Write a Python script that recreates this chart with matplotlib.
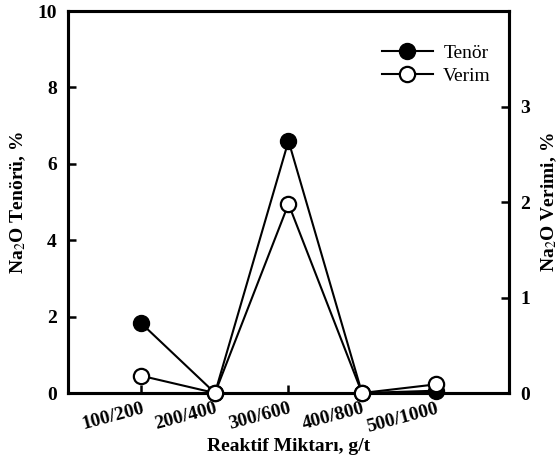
import numpy as np
import matplotlib
matplotlib.use("Agg")
import matplotlib.pyplot as plt
from matplotlib.lines import Line2D

# reagent dosage categories and read-off values
dosages = ["100/200", "200/400", "300/600", "400/800", "500/1000"]
tenor = [1.82, 0.0, 6.6, 0.0, 0.06]     # Na2O grade, % (left axis)
verim = [0.18, 0.0, 1.98, 0.0, 0.09]    # Na2O recovery, % (right axis)

plt.rcParams['font.family'] = ['Liberation Serif', 'DejaVu Serif']
plt.rcParams['mathtext.fontset'] = 'stix'

fig = plt.figure(figsize=(5.59, 4.65), dpi=100)
ax = fig.add_axes([0.1216, 0.1548, 0.7890, 0.8215])
ax2 = ax.twinx()

x = np.arange(1, len(dosages) + 1)

ax.plot(x, tenor, color='black', lw=1.5, marker='o', ms=11.5,
        mfc='black', mec='black', clip_on=False, zorder=3)
ax2.plot(x, verim, color='black', lw=1.5, marker='o', ms=11,
         mfc='white', mec='black', mew=1.6, clip_on=False, zorder=3)

ax.set_xlim(0, 6)
ax.set_ylim(0, 10)
ax2.set_ylim(0, 4)
ax.set_yticks([0, 2, 4, 6, 8, 10])
ax2.set_yticks([0, 1, 2, 3])
ax.set_xticks(x)
ax.set_xticklabels(dosages, rotation=15, ha='right', rotation_mode='anchor',
                   fontweight='bold', fontsize=14)

for a in (ax, ax2):
    for s in a.spines.values():
        s.set_linewidth(2.2)
    a.tick_params(direction='in', length=6, width=1.8, labelsize=14)
for lab in ax.get_yticklabels() + ax2.get_yticklabels():
    lab.set_fontweight('bold')
ax.tick_params(axis='x', pad=5)
ax.tick_params(axis='y', pad=8)
ax2.tick_params(axis='y', pad=8)

ax.set_xlabel('Reaktif Miktarı, g/t', fontweight='bold', fontsize=14)
ax.xaxis.set_label_coords(0.5, -0.118)
fig.text(18 / 559, 1 - 202 / 465, r'Na$_2$O Tenörü, %', rotation=90,
         ha='center', va='center', fontweight='bold', fontsize=14)
fig.text(549 / 559, 1 - 202 / 465, r'Na$_2$O Verimi, %', rotation=90,
         ha='center', va='center', fontweight='bold', fontsize=14)

handles = [
    Line2D([], [], color='black', lw=1.5, marker='o', ms=11.5, mfc='black', mec='black'),
    Line2D([], [], color='black', lw=1.5, marker='o', ms=11, mfc='white', mec='black', mew=1.6),
]
ax2.legend(handles, ['Tenör', 'Verim'], loc='upper left', frameon=False,
           fontsize=14, handlelength=2.6, handletextpad=0.55, labelspacing=0.25,
           borderpad=0, borderaxespad=0, bbox_to_anchor=(0.712, 0.912))

fig.savefig('out.png', dpi=100)
